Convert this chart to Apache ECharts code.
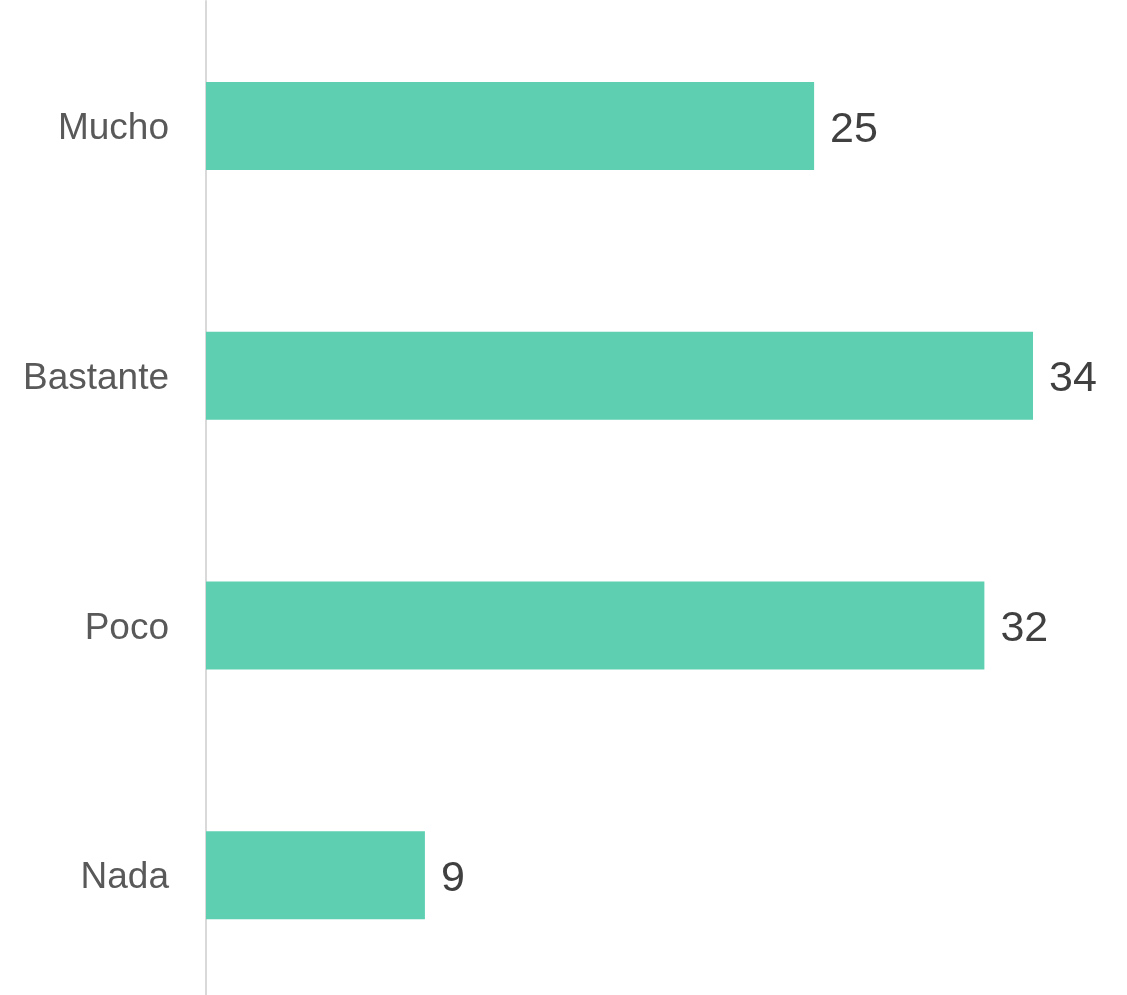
<!DOCTYPE html>
<html>
<head>
<meta charset="utf-8">
<script src="https://cdn.jsdelivr.net/npm/echarts@6/dist/echarts.min.js"></script>
<style>html,body{margin:0;padding:0;background:#fff;}#c{width:1127px;height:995px;}</style>
</head>
<body>
<div id="c"></div>
<script>
const categories = ["Mucho", "Bastante", "Poco", "Nada"];
const values = [25, 34, 32, 9];

const chart = echarts.init(document.getElementById('c'), null, {renderer: 'canvas'});
chart.setOption({
  animation: false,
  backgroundColor: '#ffffff',
  grid: {left: 206, right: 21, top: 1, height: 999, containLabel: false, outerBoundsMode: 'none'},
  xAxis: {
    type: 'value', min: 0, max: 37, show: false
  },
  yAxis: {
    type: 'category', data: categories, inverse: true,
    axisLine: {show: true, lineStyle: {color: '#d9d9d9', width: 2}},
    axisTick: {show: false},
    axisLabel: {
      margin: 37,
      formatter: '{a|{value}}',
      rich: {a: {color: '#595959', fontSize: 37, fontFamily: 'Liberation Sans, Arial, sans-serif', padding: [6, 0, 0, 0]}}
    }
  },
  series: [{
    type: 'bar', data: values, barWidth: 88,
    itemStyle: {color: '#5ecfb1'},
    label: {show: true, position: 'right', distance: 16, offset: [0, 4], color: '#404040', fontSize: 43, fontFamily: 'Liberation Sans, Arial, sans-serif'}
  }]
});
</script>
</body>
</html>
